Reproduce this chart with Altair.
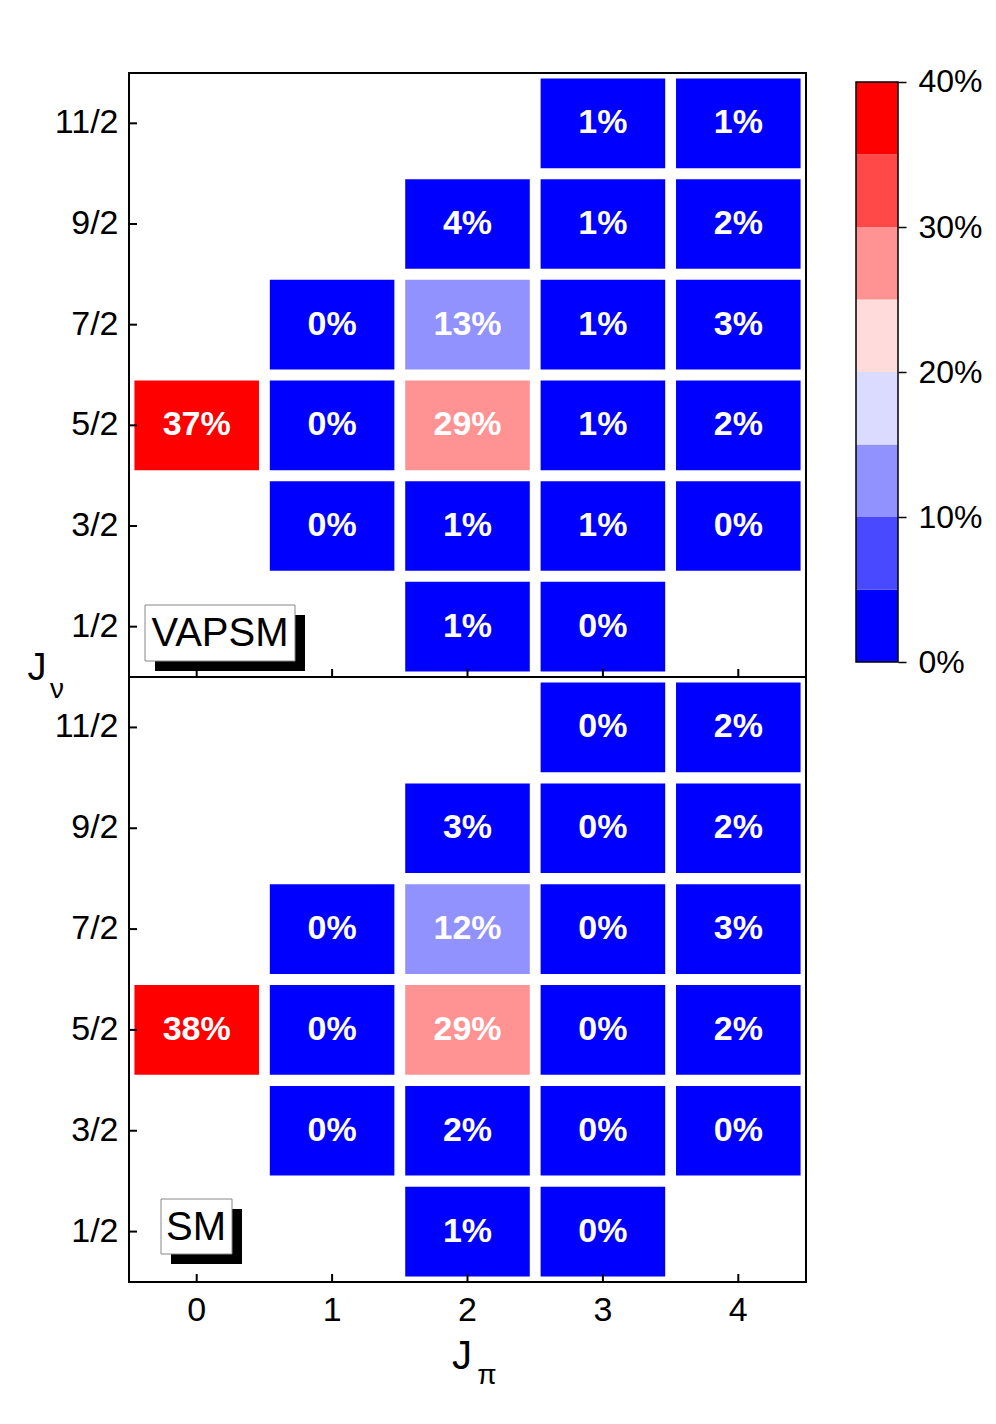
import altair as alt
import pandas as pd

FONT = "Liberation Sans"

# Axis categories
jpi_cats = ["0", "1", "2", "3", "4"]
jnu_cats = ["11/2", "9/2", "7/2", "5/2", "3/2", "1/2"]  # top to bottom

# Occupied cells (same layout in both panels)
cell_jpi = ["3", "4",
            "2", "3", "4",
            "1", "2", "3", "4",
            "0", "1", "2", "3", "4",
            "1", "2", "3", "4",
            "2", "3"]
cell_jnu = ["11/2", "11/2",
            "9/2", "9/2", "9/2",
            "7/2", "7/2", "7/2", "7/2",
            "5/2", "5/2", "5/2", "5/2", "5/2",
            "3/2", "3/2", "3/2", "3/2",
            "1/2", "1/2"]

# Percentages
vapsm_vals = [1, 1,
              4, 1, 2,
              0, 13, 1, 3,
              37, 0, 29, 1, 2,
              0, 1, 1, 0,
              1, 0]
sm_vals = [0, 2,
           3, 0, 2,
           0, 12, 0, 3,
           38, 0, 29, 0, 2,
           0, 2, 0, 0,
           1, 0]

# Colour bins (5% steps from 0 to 40%)
bin_edges = [0, 5, 10, 15, 20, 25, 30, 35, 40]
bin_colors = ["#0000ff", "#4949ff", "#9292ff", "#dbdbff",
              "#ffdbdb", "#ff9292", "#ff4949", "#ff0000"]
cbar_ticks = [0, 10, 20, 30, 40]

W = 677
H = 604
LBL = 34

color_scale = alt.Scale(type="threshold", domain=bin_edges[1:-1], range=bin_colors)
xs = alt.Scale(domain=jpi_cats, paddingInner=0.08, paddingOuter=0.04)
ys = alt.Scale(domain=jnu_cats, paddingInner=0.11, paddingOuter=0.055)


def panel(vals, name, show_xlabels, box, text_pos, h):
    df = pd.DataFrame({"jp": cell_jpi, "jn": cell_jnu, "v": vals})
    df["lab"] = df["v"].astype(str) + "%"
    if show_xlabels:
        xaxis = alt.Axis(labels=True, ticks=False, domain=False, grid=False, title=None,
                         labelFontSize=LBL, labelFont=FONT, labelColor="black",
                         labelPadding=11, labelAngle=0)
    else:
        xaxis = alt.Axis(labels=False, ticks=False, domain=False, grid=False, title=None)
    yaxis = alt.Axis(labels=True, ticks=False, domain=False, grid=False, title=None,
                     labelFontSize=LBL, labelFont=FONT, labelColor="black", labelPadding=11)
    base = alt.Chart(df)
    rects = base.mark_rect().encode(
        x=alt.X("jp:O", scale=xs, axis=xaxis),
        y=alt.Y("jn:O", scale=ys, axis=yaxis),
        color=alt.Color("v:Q", scale=color_scale, legend=None),
    )
    texts = base.mark_text(font=FONT, fontWeight="bold", fontSize=34, color="white",
                           baseline="middle", align="center").encode(
        x=alt.X("jp:O", scale=xs, axis=xaxis),
        y=alt.Y("jn:O", scale=ys, axis=yaxis),
        text="lab:N",
    )
    ytick = alt.Chart(pd.DataFrame({"jn": jnu_cats})).mark_rule(color="black", strokeWidth=2).encode(
        y=alt.Y("jn:O", scale=ys, axis=yaxis), x=alt.value(0), x2=alt.value(8))
    xtick = alt.Chart(pd.DataFrame({"jp": jpi_cats})).mark_rule(color="black", strokeWidth=2).encode(
        x=alt.X("jp:O", scale=xs, axis=xaxis), y=alt.value(h), y2=alt.value(h - 8))
    bx0, by0, bx1, by1 = box
    shadow = alt.Chart(pd.DataFrame({"a": [0]})).mark_rect(color="black").encode(
        x=alt.value(bx0 + 10), x2=alt.value(bx1 + 10), y=alt.value(by0 + 10), y2=alt.value(by1 + 10))
    boxm = alt.Chart(pd.DataFrame({"a": [0]})).mark_rect(fill="white", stroke="#888888", strokeWidth=1).encode(
        x=alt.value(bx0), x2=alt.value(bx1), y=alt.value(by0), y2=alt.value(by1))
    label = alt.Chart(pd.DataFrame({"t": [name]})).mark_text(
        font=FONT, fontSize=40, color="black", align="center", baseline="middle").encode(
        x=alt.value(text_pos[0]), y=alt.value(text_pos[1]), text="t:N")
    return alt.layer(rects, texts, ytick, xtick, shadow, boxm, label).properties(width=W, height=h)


top = panel(vapsm_vals, "VAPSM", False, (16, 532, 166, 588), (91, 561), H)
jnu_J = alt.Chart(pd.DataFrame({"t": ["J"]})).mark_text(
    font=FONT, fontSize=38, color="black", align="center", baseline="alphabetic").encode(
    x=alt.value(-92), y=alt.value(607), text="t:N")
jnu_sub = alt.Chart(pd.DataFrame({"t": ["ν"]})).mark_text(
    font=FONT, fontSize=28, color="black", align="center", baseline="alphabetic").encode(
    x=alt.value(-72), y=alt.value(625), text="t:N")
top = alt.layer(top, jnu_J, jnu_sub)

bottom = panel(sm_vals, "SM", True, (32, 522, 103, 577), (67, 551), H + 1)
jpi_J = alt.Chart(pd.DataFrame({"t": ["J"]})).mark_text(
    font=FONT, fontSize=40, color="black", align="center", baseline="alphabetic").encode(
    x=alt.value(333), y=alt.value(692), text="t:N")
jpi_sub = alt.Chart(pd.DataFrame({"t": ["π"]})).mark_text(
    font=FONT, fontSize=28, color="black", align="center", baseline="alphabetic").encode(
    x=alt.value(358), y=alt.value(707), text="t:N")
bottom = alt.layer(bottom, jpi_J, jpi_sub)

left = alt.vconcat(top, bottom, spacing=0, bounds="flush")

# Colour bar
cb = pd.DataFrame({"lo": bin_edges[:-1], "hi": bin_edges[1:]})
cy = alt.Scale(domain=[-1.03, 40.62], nice=False, zero=False)
cbar_rect = alt.Chart(cb).mark_rect().encode(
    y=alt.Y("lo:Q", scale=cy, axis=alt.Axis(orient="right", values=cbar_ticks, labelExpr="datum.value + '%'",
                                            tickSize=8, tickWidth=1.5, tickColor="black", domain=False,
                                            grid=False, title=None, labelFontSize=32, labelFont=FONT,
                                            labelColor="black", labelPadding=12)),
    y2="hi:Q",
    x=alt.value(0), x2=alt.value(42),
    color=alt.Color("lo:Q", scale=color_scale, legend=None),
)
cbar_border = alt.Chart(pd.DataFrame({"lo": [bin_edges[0]], "hi": [bin_edges[-1]]})).mark_rect(
    fill="transparent", stroke="black", strokeWidth=1.5).encode(
    y=alt.Y("lo:Q", scale=cy), y2="hi:Q", x=alt.value(0), x2=alt.value(42))
cbar = alt.layer(cbar_rect, cbar_border).properties(
    width=42, height=H, view=alt.ViewBackground(stroke="transparent"))

chart = alt.hconcat(left, cbar, spacing=47).properties(
    padding={"top": 56, "left": 18, "right": 0, "bottom": 5}
).configure(font=FONT, view=alt.ViewConfig(stroke="black", strokeWidth=2))

chart.save("out.html", embed_options={"renderer": "svg", "actions": False})
